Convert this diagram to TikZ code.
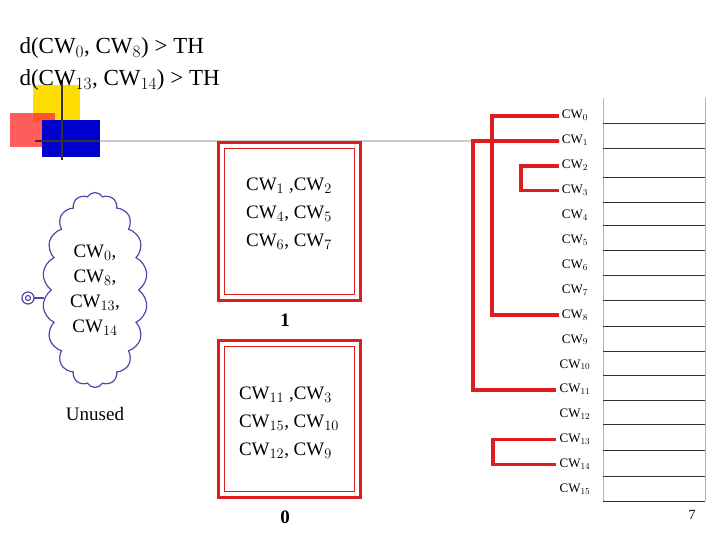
\documentclass[tikz,border=0pt]{standalone}
\usepackage{fontspec}
\setmainfont{Liberation Serif}
\usetikzlibrary{shapes.symbols}
\definecolor{boxred}{RGB}{220,30,30}
\definecolor{cloudblue}{RGB}{80,70,170}
\tikzset{
    bracket/.style={line width=3.5pt, boxred},
    cwlabel/.style={font=\fontsize{13}{14}\selectfont, text height=9pt, text depth=3pt, inner sep=3pt},
    boxtext/.style={font=\fontsize{19}{28}\selectfont, align=left}
}
\begin{document}
\begin{tikzpicture}[x=1pt, y=-1pt]
    \useasboundingbox (0,0) rectangle (720,540);

    % Logo
    \fill[yellow!80!orange] (33,85) rectangle (80,122);
    \fill[red!80, opacity=0.8] (10,113) rectangle (55,147);
    \fill[blue!80!black] (42,120) rectangle (100,157);
    \draw[line width=1.5pt, gray!40] (35,141) -- (560,141);
    \draw[line width=1.5pt, black!80] (35,141) -- (100,141);
    \draw[line width=1.5pt, black!80] (62,80) -- (62,160);

    % Title
    \node[anchor=west, font=\fontsize{23}{27}\selectfont] (t1) at (16,48) {d(CW$_0$, CW$_8$) > TH};
    \node[anchor=west, font=\fontsize{23}{27}\selectfont] (t2) at (16,80) {d(CW$_{13}$, CW$_{14}$) > TH};

    % Cloud
    \node[cloud, cloud puffs=18, cloud puff arc=120, aspect=0.55, draw=cloudblue,
        line width=1.2pt, minimum width=105pt, minimum height=195pt,
        inner sep=0pt, font=\fontsize{19}{25}\selectfont, align=center]
        (unusedset) at (95,290) {CW$_0$,\\CW$_8$,\\CW$_{13}$,\\CW$_{14}$};
    \draw[cloudblue, line width=1.2pt] (28,298) circle (6) (28,298) circle (2.5);
    \draw[cloudblue, line width=1.2pt] (34,298) -- (44,298);
    \node[font=\fontsize{19}{23}\selectfont] (unused) at (95,414) {Unused};

    % Boxes
    \draw[boxred, line width=3pt] (218,143) rectangle (360,300);
    \draw[boxred, line width=1pt] (224,149) rectangle (354,294);
    \node[boxtext] (set1) at (289,214) {CW$_1$ ,CW$_2$\\CW$_4$, CW$_5$\\CW$_6$, CW$_7$};
    \node[font=\bfseries\fontsize{19}{23}\selectfont] (one) at (285,320) {1};
    \draw[boxred, line width=3pt] (218,340) rectangle (360,497);
    \draw[boxred, line width=1pt] (224,346) rectangle (354,491);
    \node[boxtext] (set0) at (289,423) {CW$_{11}$ ,CW$_3$\\CW$_{15}$, CW$_{10}$\\CW$_{12}$, CW$_9$};
    \node[font=\bfseries\fontsize{19}{23}\selectfont] (zero) at (285,517) {0};

    % Table
    \draw[gray!60] (603,98) -- (603,501) (705,98) -- (705,501);
    \foreach \y in {123,148,177,202,225,250,275,300,326,351,375,400,424,450,476,501}
        \draw[black!80] (603,\y) -- (705,\y);
    \foreach \i in {0,...,15}
        \node[cwlabel] (cw\i) at (575,{116+24.9*\i}) {CW$_{\i}$};

    % Brackets
    \draw[bracket] (cw0.west) -- (cw0.west -| 492,0) |- (cw8.west);
    \draw[bracket] (cw1.west) -- (cw1.west -| 473,0) |- (cw11.west);
    \draw[bracket] (cw2.west) -- (cw2.west -| 521,0) |- (cw3.west);
    \draw[bracket] (cw13.west) -- (cw13.west -| 493,0) |- (cw14.west);

    \node[font=\fontsize{14}{16}\selectfont] (page) at (692,515) {7};
\end{tikzpicture}
\end{document}
